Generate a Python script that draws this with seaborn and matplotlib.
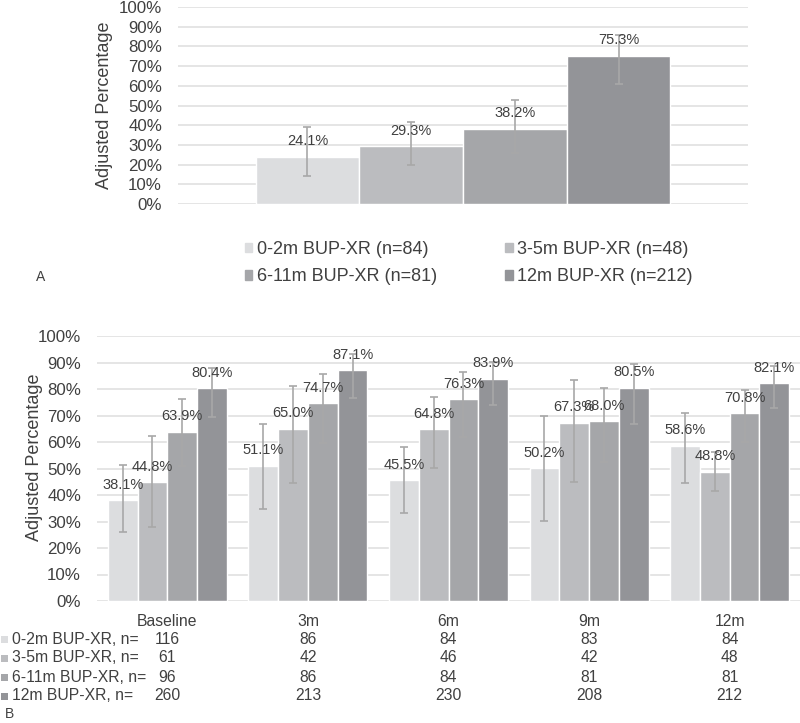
import pandas as pd
import seaborn as sns
import matplotlib.pyplot as plt
from matplotlib.patches import Patch, Rectangle
from matplotlib.transforms import blended_transform_factory

# ---- data ----
groups = ['0-2m BUP-XR', '3-5m BUP-XR', '6-11m BUP-XR', '12m BUP-XR']
colors = ['#dcdddf', '#bbbcbf', '#a5a6a9', '#939498']

# panel A
a_values = [24.1, 29.3, 38.2, 75.3]
a_low = [14.2, 20.0, 26.0, 60.7]
a_high = [38.9, 41.5, 52.6, 86.0]
a_n = [84, 48, 81, 212]

# panel B
timepoints = ['Baseline', '3m', '6m', '9m', '12m']
b_values = [
    [38.1, 51.1, 45.5, 50.2, 58.6],
    [44.8, 65.0, 64.8, 67.3, 48.8],
    [63.9, 74.7, 76.3, 68.0, 70.8],
    [80.4, 87.1, 83.9, 80.5, 82.1],
]
b_low = [
    [26.2, 34.8, 33.1, 30.3, 44.4],
    [28.0, 44.4, 50.3, 45.0, 41.5],
    [51.0, 59.5, 62.0, 52.3, 60.1],
    [69.3, 76.7, 74.0, 66.7, 72.7],
]
b_high = [
    [51.3, 66.7, 58.2, 69.8, 71.1],
    [62.3, 81.1, 77.0, 83.4, 56.3],
    [76.1, 85.7, 86.3, 80.3, 79.6],
    [87.8, 93.1, 90.3, 89.4, 88.8],
]
b_n = [
    [116, 86, 84, 83, 84],
    [61, 42, 46, 42, 48],
    [96, 86, 84, 81, 81],
    [260, 213, 230, 208, 212],
]

sns.set_theme(style='white')
plt.rcParams['font.family'] = ['Liberation Sans', 'DejaVu Sans']
txt = '#404040'
grid_c = '#e0e0e0'
err_c = '#a8a8a8'

fig = plt.figure(figsize=(8, 7.23), dpi=100)
W, H = 800, 723


def px_axes(l, t, r, b):
    return fig.add_axes([l / W, 1 - b / H, (r - l) / W, (b - t) / H])


def style_axis(ax):
    ax.set_ylim(0, 100)
    ax.set_yticks(range(0, 101, 10))
    ax.set_yticklabels([f'{v}%' for v in range(0, 101, 10)], fontsize=12.2, color=txt)
    ax.tick_params(axis='y', length=0, pad=11.5)
    ax.yaxis.grid(True, color=grid_c, linewidth=1.2)
    ax.set_axisbelow(True)
    for s in ax.spines.values():
        s.set_visible(False)


def add_errs_labels(ax, values, low, high):
    # bars sorted left to right: category-major, group-minor
    bars = sorted([p for p in ax.patches if p.get_height() > 0], key=lambda p: p.get_x())
    ng = len(values)
    for k, bar in enumerate(bars):
        ci, gi = divmod(k, ng)
        x = bar.get_x() + bar.get_width() / 2
        v = values[gi][ci]
        ax.errorbar(x, v, yerr=[[v - low[gi][ci]], [high[gi][ci] - v]],
                    fmt='none', ecolor=err_c, elinewidth=1.2, capsize=3, capthick=1.2)
        ax.annotate(f'{v:.1f}%', (x, v), xytext=(0, 11), textcoords='offset points',
                    ha='center', va='center', fontsize=10.5, color=txt)


# ---- panel A ----
axA = px_axes(178, 7, 748, 204)
dfA = pd.DataFrame({'cat': ['all'] * 4, 'group': groups, 'value': a_values})
sns.barplot(data=dfA, x='cat', y='value', hue='group', hue_order=groups,
            palette=colors, width=0.728, errorbar=None, legend=False, ax=axA,
            saturation=1)
style_axis(axA)
axA.set_xlim(-0.5, 0.5)
axA.set_xticks([])
axA.set_xlabel('')
axA.set_ylabel('Adjusted Percentage', fontsize=13, color=txt)
axA.yaxis.set_label_coords(-0.1298, 0.5)
axA.yaxis.label.set_verticalalignment('center')
add_errs_labels(axA, [[v] for v in a_values], [[v] for v in a_low], [[v] for v in a_high])

handles = [Patch(color=c) for c in colors]
labels = [f'{g} (n={n})' for g, n in zip(groups, a_n)]
order = [0, 2, 1, 3]
fig.legend([handles[i] for i in order], [labels[i] for i in order], ncol=2,
           loc='center left', bbox_to_anchor=(245 / W, 1 - 263 / H), frameon=False,
           fontsize=13, labelcolor=txt, handlelength=0.4, handleheight=0.4,
           handletextpad=0.25, columnspacing=3.8, labelspacing=0.6,
           borderpad=0, borderaxespad=0)
fig.text(41 / W, 1 - 277 / H, 'A', fontsize=10, color=txt, ha='center', va='center')

# ---- panel B ----
axB = px_axes(97, 336, 800, 601)
rows = []
for g, vals in zip(groups, b_values):
    for t, v in zip(timepoints, vals):
        rows.append({'time': t, 'group': g, 'value': v})
dfB = pd.DataFrame(rows)
sns.barplot(data=dfB, x='time', y='value', hue='group', hue_order=groups,
            order=timepoints, palette=colors, width=0.847, errorbar=None,
            legend=False, ax=axB, saturation=1)
style_axis(axB)
axB.set_xlim(-0.5, len(timepoints) - 0.5)
axB.set_xticks([])
axB.set_xlabel('')
axB.set_ylabel('Adjusted Percentage', fontsize=13, color=txt)
axB.yaxis.set_label_coords((35 - 97) / 703, 0.543)
axB.yaxis.label.set_verticalalignment('center')
add_errs_labels(axB, b_values, b_low, b_high)

# data table below panel B
tr = blended_transform_factory(axB.transData, axB.transAxes)
cat_y = 621
row_ys = [639, 658, 677, 696]
for i, t in enumerate(timepoints):
    axB.text(i, (601 - cat_y) / 265, t, transform=tr, ha='center', va='center',
             fontsize=11.3, color=txt)
for gi, (g, ns) in enumerate(zip(groups, b_n)):
    yy = row_ys[gi]
    fig.add_artist(Rectangle((1 / W, 1 - (yy + 3.5) / H), 7 / W, 7 / H,
                             transform=fig.transFigure, color=colors[gi], lw=0))
    fig.text(12 / W, 1 - yy / H, f'{g}, n=', fontsize=11.3, color=txt, ha='left', va='center')
    for i, n in enumerate(ns):
        axB.text(i, (601 - yy) / 265, str(n), transform=tr, ha='center', va='center',
                 fontsize=11.3, color=txt)
fig.text(5 / W, 1 - 714 / H, 'B', fontsize=10, color=txt, ha='left', va='center')

fig.savefig('out.png', dpi=100)
